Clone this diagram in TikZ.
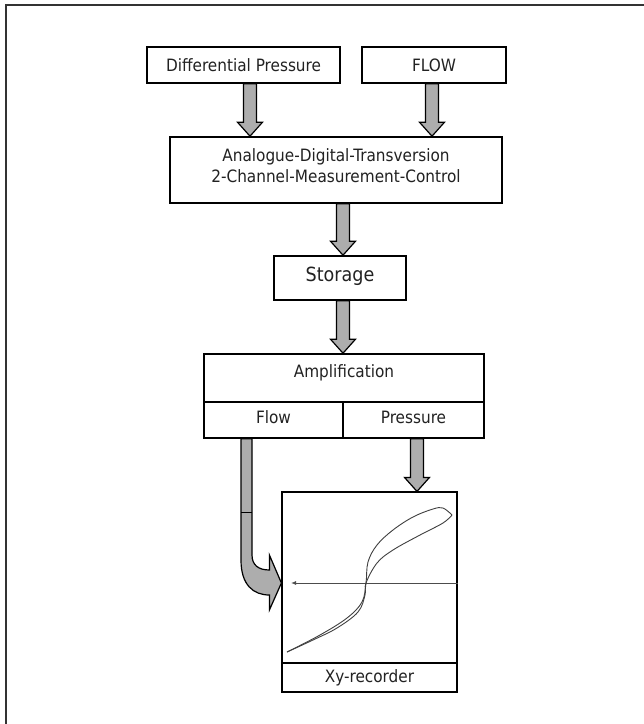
\documentclass[tikz,border=0pt]{standalone}
\usepackage{fontspec}
\setmainfont{DejaVu Sans Condensed}
\usetikzlibrary{calc,arrows.meta}
\definecolor{arrowgray}{HTML}{ADADAD}
\definecolor{txt}{HTML}{222222}
\definecolor{framegray}{HTML}{333333}
\newcommand\blockarrow[2]{%
  \filldraw[barrow] let \p1=(#1), \p2=(#2) in
    ({\x1-6.5pt},\y1) -- ({\x1-6.5pt},{\y2+14pt}) -- ({\x1-12.5pt},{\y2+14pt}) -- (\x1,\y2)
    -- ({\x1+12.5pt},{\y2+14pt}) -- ({\x1+6.5pt},{\y2+14pt}) -- ({\x1+6.5pt},\y1) -- cycle;}
\begin{document}
\begin{tikzpicture}[x=1pt,y=-1pt,
  box/.style={draw=black, line width=1.6pt, inner sep=0pt, text=txt,
    font=\fontsize{17}{21}\selectfont, align=center},
  lbl/.style={inner sep=0pt, text=txt, font=\fontsize{17}{21}\selectfont, align=center},
  barrow/.style={fill=arrowgray, draw=black, line width=1.2pt, line join=miter},
  curve/.style={draw=black!75, line width=0.9pt}]
\useasboundingbox (0,0) rectangle (644,724);
\fill[white] (0,0) rectangle (644,724);
\draw[line width=2pt, draw=framegray] (6,724) -- (6,5) -- (644,5);
% boxes
\node[box, minimum width=193pt, minimum height=36pt] (dp) at (243.5,65) {Differential Pressure};
\node[box, minimum width=144pt, minimum height=36pt] (flow) at (434,65) {FLOW};
\node[box, minimum width=332pt, minimum height=66pt] (adc) at (336,170) {};
\node[lbl] (adct) at (336,166) {Analogue-Digital-Transversion\\2-Channel-Measurement-Control};
\node[box, minimum width=132pt, minimum height=44pt, font=\fontsize{19.5}{24}\selectfont,
  text height=14pt, text depth=8pt] (sto) at (340,278) {Storage};
\node[box, minimum width=280pt, minimum height=48pt, text height=13pt, text depth=15pt] (amp) at (344,378) {Amplification};
\node[box, minimum width=139pt, minimum height=36pt, text height=13pt, text depth=7pt] (fl) at (273.5,420) {Flow};
\node[box, minimum width=141pt, minimum height=36pt, text height=13pt, text depth=7pt] (pr) at (413.5,420) {Pressure};
\node[box, line width=1.2pt, minimum width=175pt, minimum height=171pt] (xy) at (369.5,577.5) {};
\node[box, line width=1.2pt, minimum width=175pt, minimum height=29pt] (xyl) at (369.5,677.5) {Xy-recorder};
% straight block arrows
\blockarrow{[xshift=6.5pt]dp.south}{adc.north}
\blockarrow{[xshift=-2pt]flow.south}{adc.north}
\blockarrow{[xshift=7pt]adc.south}{sto.north}
\blockarrow{[xshift=3pt]sto.south}{amp.north}
\blockarrow{[xshift=3.5pt]pr.south}{xy.north}
% axis in the recorder
\coordinate (ax) at (291,583);
\draw[draw=black!70, line width=1pt, -{Latex[length=5pt,width=4pt]}] (xy.east |- ax) -- (ax);
% bent flow arrow
\coordinate (T) at (xy.west |- ax);
\coordinate (SL) at ($(fl.south)+(-32.5,0)$);
\coordinate (SR) at ($(fl.south)+(-21.5,0)$);
\filldraw[barrow] (SL) -- ($(SL|-T)+(0,-23)$)
  .. controls ($(SL|-T)+(0,2)$) and ($(T)+(-28,12)$) .. ($(T)+(-12,12)$)
  -- ($(T)+(-12,27)$) -- (T) -- ($(T)+(-12,-28)$) -- ($(T)+(-12,-13)$)
  .. controls ($(T)+(-23,-13)$) and ($(SR|-T)+(0,-18)$) .. ($(SR|-T)+(0,-28)$)
  -- (SR) -- cycle;
\draw[line width=1.2pt] ($(SL)+(0,74)$) -- ($(SR)+(0,74)$);
% hysteresis curve
\draw[curve] plot[smooth, tension=0.6] coordinates {(287,652) (320,635) (347,618) (362,602) (366,583) (368,562) (377,545) (393,530) (413,517) (433,509) (443,508) (452,515)};
\draw[curve] plot[smooth, tension=0.6] coordinates {(452,515) (443,523) (420,535) (393,550) (377,563) (366,583) (365,595) (358,612) (337,628) (313,640) (287,652)};
\end{tikzpicture}
\end{document}
